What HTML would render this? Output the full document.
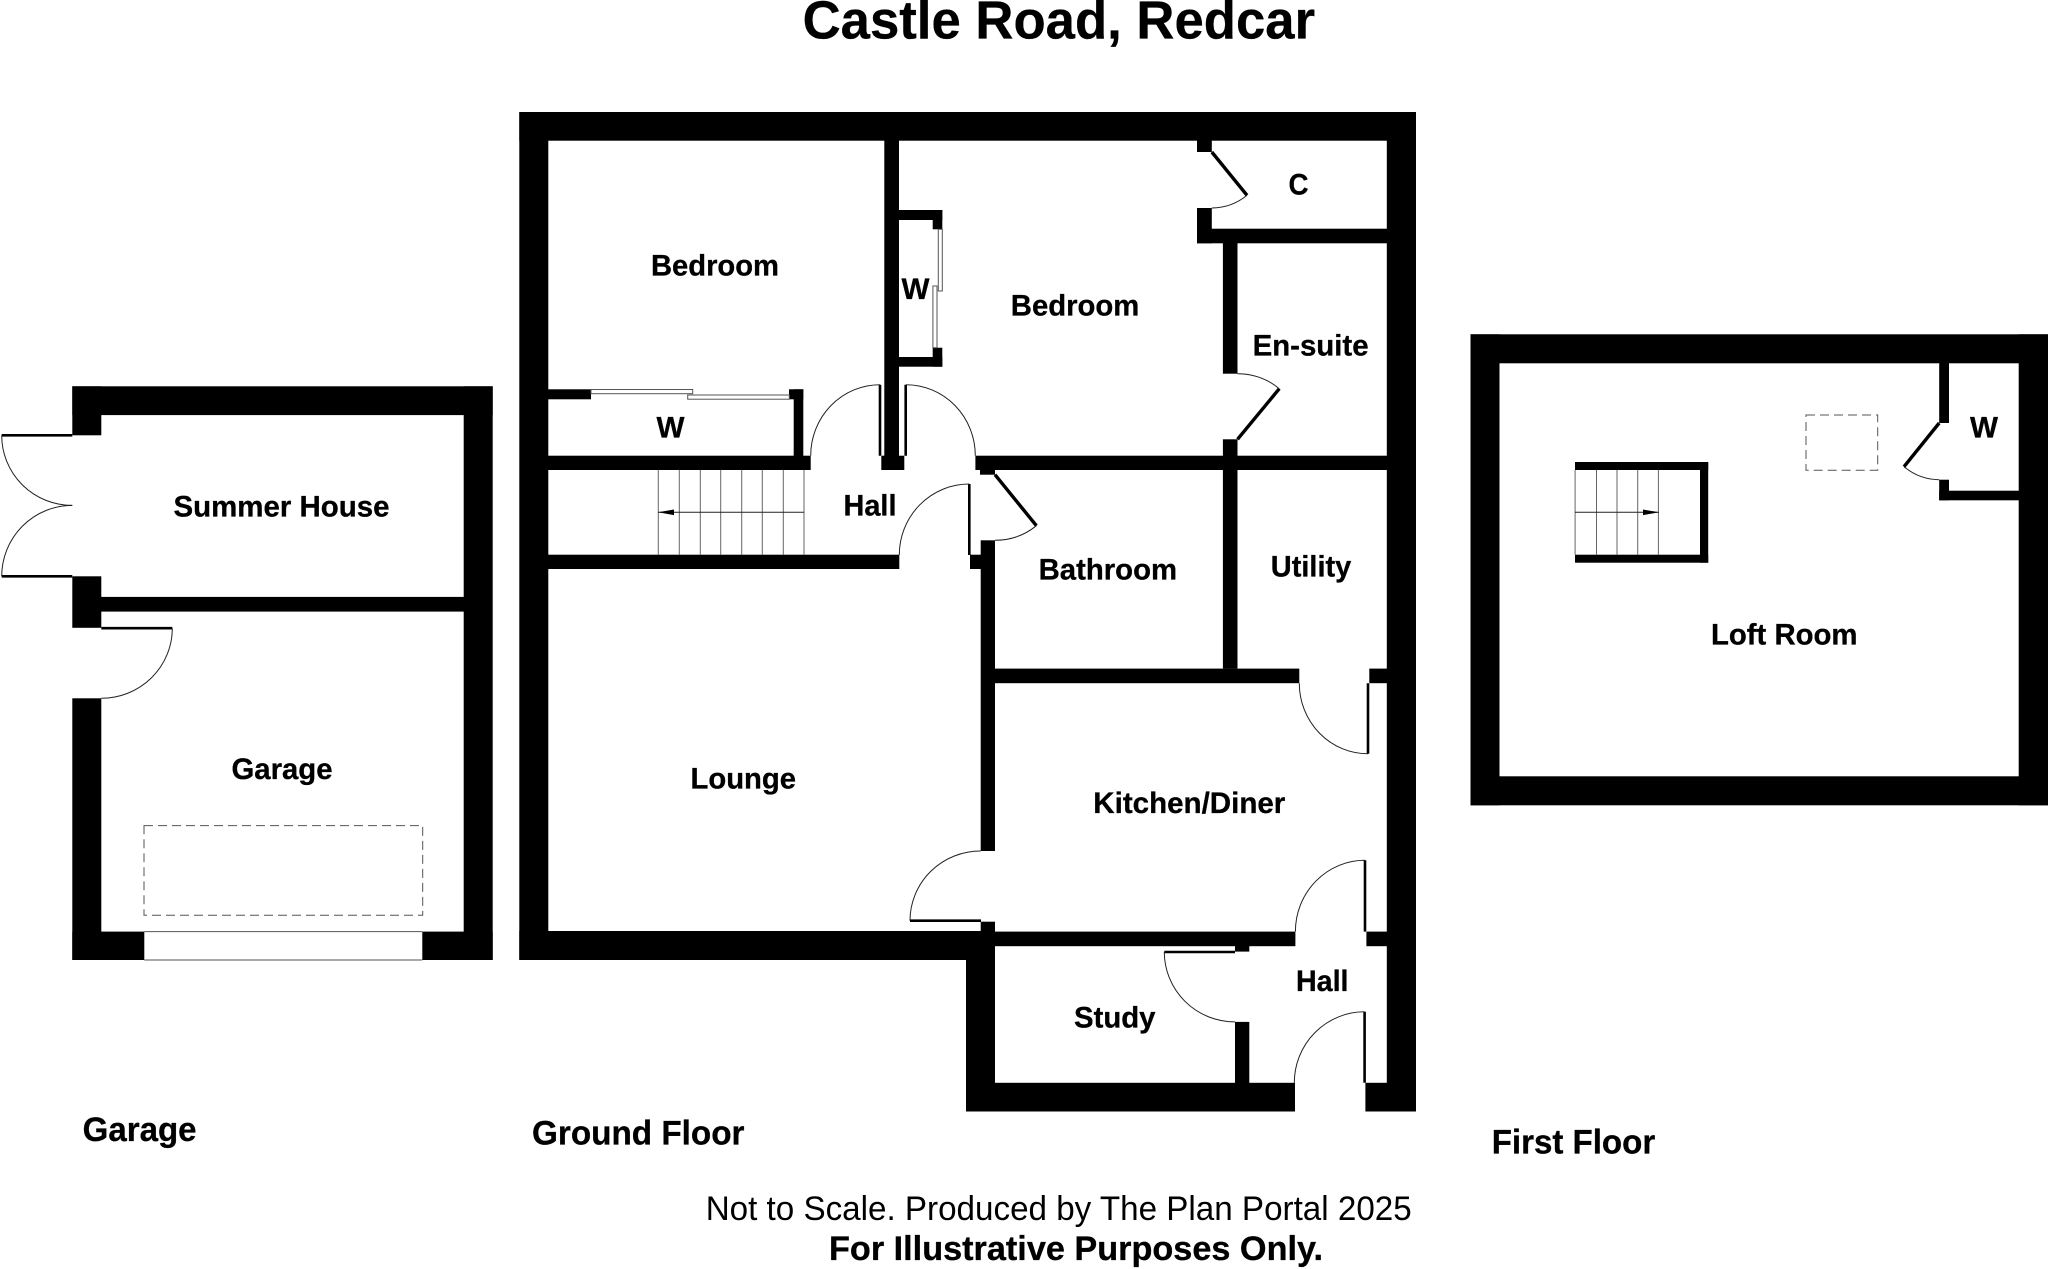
<!DOCTYPE html>
<html>
<head>
<meta charset="utf-8">
<style>
html,body{margin:0;padding:0;background:#fff;}
svg{display:block;}
text{font-family:"Liberation Sans",Arial,sans-serif;font-weight:bold;fill:#000;font-size:30px;stroke:#000;stroke-width:0.3px;}
</style>
</head>
<body>
<svg width="2048" height="1269" viewBox="0 0 2048 1269" xmlns="http://www.w3.org/2000/svg">
<rect width="2048" height="1269" fill="#fff"/>

<!-- GARAGE walls -->
<g fill="#000">
<rect x="72.3" y="386.3" width="420.4" height="28.8"/>
<rect x="463.7" y="386.3" width="29" height="573.7"/>
<rect x="72.3" y="386.3" width="29" height="49"/>
<rect x="72.3" y="576.3" width="29" height="51.5"/>
<rect x="72.3" y="698.3" width="29" height="261.7"/>
<rect x="101" y="596.9" width="363" height="14.7"/>
<rect x="72.3" y="931.6" width="72" height="28.4"/>
<rect x="422.3" y="931.6" width="70.4" height="28.4"/>

<!-- GROUND FLOOR walls -->
<rect x="519.3" y="112" width="896.7" height="28.7"/>
<rect x="519.3" y="112" width="29" height="848"/>
<rect x="1386.8" y="112" width="29.2" height="999.5"/>
<rect x="519.3" y="931" width="475.7" height="29"/>
<rect x="966" y="931" width="29" height="180.5"/>
<rect x="966" y="1082.8" width="329" height="28.7"/>
<rect x="1365.4" y="1082.8" width="50.6" height="28.7"/>
<rect x="884.3" y="140" width="14.7" height="330"/>
<rect x="881.3" y="455.7" width="23" height="14.3"/>
<!-- upper wardrobe -->
<rect x="899" y="210" width="43.3" height="10"/>
<rect x="932.7" y="210" width="9.6" height="19.3"/>
<rect x="899" y="357" width="43.3" height="9.7"/>
<rect x="932.7" y="347.7" width="9.6" height="19"/>
<!-- lower wardrobe -->
<rect x="548" y="389.3" width="43" height="10"/>
<rect x="789" y="389.3" width="14.3" height="10"/>
<rect x="793.7" y="389.3" width="9.6" height="70"/>
<rect x="548" y="455.7" width="262.7" height="14.3"/>
<!-- hall lower -->
<rect x="548" y="554.7" width="351.3" height="14.3"/>
<rect x="970" y="554.7" width="12" height="14.3"/>
<rect x="975.4" y="455.7" width="412" height="14.3"/>
<rect x="980" y="468" width="15" height="6.7"/>
<rect x="980.7" y="540.3" width="14.3" height="310.7"/>
<rect x="980.7" y="921.7" width="14.3" height="12"/>
<!-- closet -->
<rect x="1197" y="140" width="14.8" height="12"/>
<rect x="1197" y="208" width="14.8" height="35.3"/>
<rect x="1197" y="228.7" width="190" height="14.6"/>
<!-- ensuite / utility -->
<rect x="1222.9" y="243" width="14.6" height="130.7"/>
<rect x="1222.9" y="439.3" width="14.6" height="229.3"/>
<rect x="995" y="668.6" width="304.3" height="14.6"/>
<rect x="1369.3" y="668.6" width="18" height="14.6"/>
<!-- kitchen bottom -->
<rect x="980" y="931.6" width="315.4" height="14.6"/>
<rect x="1366.4" y="931.6" width="21" height="14.6"/>
<!-- study -->
<rect x="1235" y="946" width="14.3" height="5.6"/>
<rect x="1235" y="1021.9" width="14.3" height="61.5"/>

<!-- FIRST FLOOR walls -->
<rect x="1470.5" y="334.3" width="577.5" height="29"/>
<rect x="1470.5" y="334.3" width="29" height="471"/>
<rect x="2018.7" y="334.3" width="29.3" height="471"/>
<rect x="1470.5" y="776.3" width="577.5" height="29"/>
<rect x="1939.2" y="363" width="9.8" height="60"/>
<rect x="1939.2" y="479.7" width="9.8" height="20.6"/>
<rect x="1939.2" y="490.7" width="80" height="9.6"/>
<!-- loft stair walls -->
<rect x="1575" y="462" width="133.2" height="8"/>
<rect x="1575" y="554.7" width="133.2" height="8"/>
<rect x="1700" y="462" width="8.2" height="100.7"/>
</g>

<!-- door leaves: straight -->
<g stroke="#000" stroke-width="2.6" fill="none">
<path d="M1.7 435.3H72.3"/>
<path d="M1.7 576.3H72.3"/>
<path d="M101.3 628.2H172.3"/>
<path d="M880 384.7V455.7"/>
<path d="M905.7 384.7V455.7"/>
<path d="M969.3 484V555"/>
<path d="M1368 683.2V753.8"/>
<path d="M1365 860.3V931.6"/>
<path d="M910 920.7H981"/>
<path d="M1164.3 952H1235"/>
<path d="M1364.6 1011.8V1082.8"/>
</g>
<g stroke="#000" stroke-width="3.4" fill="none">
<path d="M995 474.7L1036.4 525.7"/>
<path d="M1211.8 152L1247 195.3"/>
<path d="M1279.3 388.7L1237.5 439.3"/>
<path d="M1939.2 423L1904 466.7"/>
</g>

<!-- door arcs -->
<g stroke="#222" stroke-width="1" fill="none">
<path d="M1.7 435.3A70.6 70 0 0 0 72.3 505.4"/>
<path d="M1.7 576.3A70.6 71 0 0 1 72.3 505.4"/>
<path d="M172.3 628.2A71 70 0 0 1 101.3 698.3"/>
<path d="M880 384.7A69.3 71 0 0 0 810.7 455.7"/>
<path d="M906 384.7A69.3 71 0 0 1 975.3 455.7"/>
<path d="M969.3 484A70 71 0 0 0 899.3 555"/>
<path d="M1036.4 525.7A65.7 65.7 0 0 1 995 540.3"/>
<path d="M1247 195.3A55.8 55.8 0 0 1 1211.8 208"/>
<path d="M1237.5 373.7A65.6 65.6 0 0 1 1279.3 388.7"/>
<path d="M1299.3 683.2A68.7 70.6 0 0 0 1368 753.8"/>
<path d="M1365 860.3A69.6 71.3 0 0 0 1295.4 931.6"/>
<path d="M980.7 851A70.7 69.7 0 0 0 910 920.7"/>
<path d="M1164.3 952A70.7 70 0 0 0 1235 1021.9"/>
<path d="M1364.6 1011.8A70.3 71 0 0 0 1294.3 1082.8"/>
<path d="M1904 466.7A56 56 0 0 0 1939.2 479.7"/>
</g>

<!-- sliding wardrobe panels -->
<g fill="#fff" stroke="#555" stroke-width="1">
<rect x="591" y="389.5" width="101.7" height="4.2"/>
<rect x="687.7" y="395" width="101.6" height="4.2"/>
<rect x="938.3" y="229.3" width="4" height="61.7"/>
<rect x="932.9" y="286" width="4.1" height="61.7"/>
</g>

<!-- garage door lines -->
<g stroke="#555" stroke-width="1" fill="none">
<path d="M144.3 931.6H422.3"/>
<path d="M144.3 960H422.3"/>
</g>

<!-- dashed rectangles -->
<g stroke="#555" stroke-width="1" fill="none" stroke-dasharray="9 5">
<rect x="144" y="825.6" width="278.7" height="89.6"/>
<rect x="1806" y="415" width="71.7" height="55.3"/>
</g>

<!-- stairs ground -->
<g stroke="#666" stroke-width="1" fill="none">
<path d="M658.3 470V554.7M679.3 470V554.7M700.3 470V554.7M720.7 470V554.7M741.7 470V554.7M762.3 470V554.7M783.3 470V554.7M804 470V554.7"/>
<path d="M1575.1 470V554.7M1596.5 470V554.7M1617 470V554.7M1637.7 470V554.7M1658.4 470V554.7"/>
</g>
<g stroke="#222" stroke-width="1" fill="none">
<path d="M658 512.3H804"/>
<path d="M1575 512.3H1659"/>
</g>
<polygon points="658,512.3 674,509.5 674,515.1" fill="#000"/>
<polygon points="1659,512.3 1643,509.5 1643,515.1" fill="#000"/>

<!-- Labels -->
<text x="173.5" y="516.5" textLength="216" lengthAdjust="spacingAndGlyphs">Summer House</text>
<text x="231.5" y="779" textLength="101" lengthAdjust="spacingAndGlyphs">Garage</text>
<text x="651" y="275.7" textLength="128" lengthAdjust="spacingAndGlyphs">Bedroom</text>
<text x="656.5" y="437.7" textLength="28" lengthAdjust="spacingAndGlyphs">W</text>
<text x="901.5" y="299" textLength="28" lengthAdjust="spacingAndGlyphs">W</text>
<text x="843.5" y="515.3" textLength="53" lengthAdjust="spacingAndGlyphs">Hall</text>
<text x="1010.8" y="315.7" textLength="128.5" lengthAdjust="spacingAndGlyphs">Bedroom</text>
<text x="1288.5" y="194.7" textLength="20" lengthAdjust="spacingAndGlyphs">C</text>
<text x="1252.6" y="355.7" textLength="116" lengthAdjust="spacingAndGlyphs">En-suite</text>
<text x="1038.6" y="579.7" textLength="138.5" lengthAdjust="spacingAndGlyphs">Bathroom</text>
<text x="1270.8" y="576.6" textLength="80.5" lengthAdjust="spacingAndGlyphs">Utility</text>
<text x="1093.3" y="813" textLength="192" lengthAdjust="spacingAndGlyphs">Kitchen/Diner</text>
<text x="1296" y="991.1" textLength="52.5" lengthAdjust="spacingAndGlyphs">Hall</text>
<text x="1074" y="1027.5" textLength="81.5" lengthAdjust="spacingAndGlyphs">Study</text>
<text x="690.5" y="788.7" textLength="105.5" lengthAdjust="spacingAndGlyphs">Lounge</text>
<text x="1711" y="644.7" textLength="146.5" lengthAdjust="spacingAndGlyphs">Loft Room</text>
<text x="1970" y="437.3" textLength="28" lengthAdjust="spacingAndGlyphs">W</text>

<!-- Title and captions -->
<text x="802.6" y="38.7" style="font-size:53.5px" textLength="512.5" lengthAdjust="spacingAndGlyphs">Castle Road, Redcar</text>
<text x="82.6" y="1141" style="font-size:34px" textLength="114" lengthAdjust="spacingAndGlyphs">Garage</text>
<text x="532" y="1144.3" style="font-size:34px" textLength="212.5" lengthAdjust="spacingAndGlyphs">Ground Floor</text>
<text x="1491.7" y="1153.3" style="font-size:34px" textLength="163.5" lengthAdjust="spacingAndGlyphs">First Floor</text>
<text x="705.7" y="1220" style="font-size:34px;font-weight:normal;stroke:none" textLength="706" lengthAdjust="spacingAndGlyphs">Not to Scale. Produced by The Plan Portal 2025</text>
<text x="829" y="1260" style="font-size:34px" textLength="494" lengthAdjust="spacingAndGlyphs">For Illustrative Purposes Only.</text>
</svg>
</body>
</html>
